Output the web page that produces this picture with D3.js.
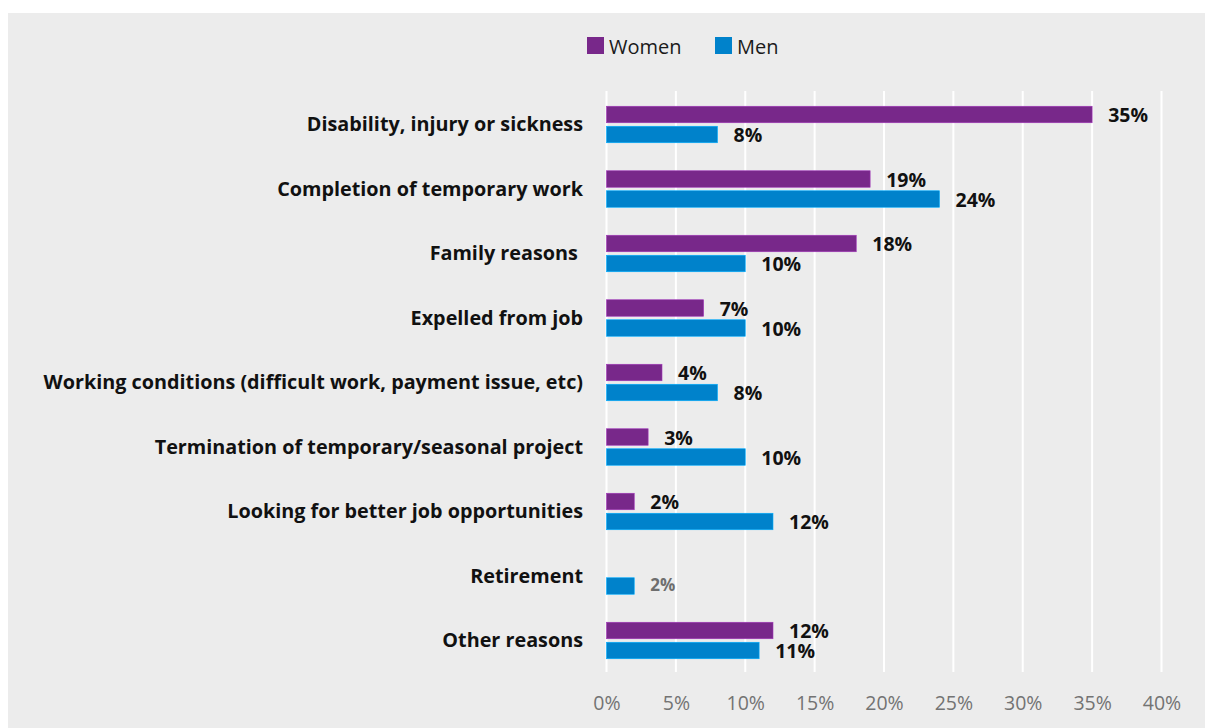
<!DOCTYPE html>
<html>
<head>
<meta charset="utf-8">
<script src="https://cdn.jsdelivr.net/npm/d3@7"></script>
<style>
  html, body { margin: 0; padding: 0; background: #ffffff; }
  svg { display: block; }
  text { font-family: "Open Sans", "Noto Sans", sans-serif; }
</style>
</head>
<body>
<svg id="chart" width="1205" height="728"></svg>
<script>
// Reasons for leaving the last job, by sex (% of respondents)
const categories = [
  "Disability, injury or sickness",
  "Completion of temporary work",
  "Family reasons ",
  "Expelled from job",
  "Working conditions (difficult work, payment issue, etc)",
  "Termination of temporary/seasonal project",
  "Looking for better job opportunities",
  "Retirement",
  "Other reasons"
];
const women = [35, 19, 18, 7, 4, 3, 2, null, 12];
const men   = [8, 24, 10, 10, 8, 10, 12, 2, 11];
const seriesNames = ["Women", "Men"];
const seriesColors = ["#78288a", "#0082cb"];
const tickValues = [0, 5, 10, 15, 20, 25, 30, 35, 40];

const svg = d3.select("#chart");
const W = 1205, H = 728;

// grey panel
svg.append("rect").attr("x", 8).attr("y", 13)
  .attr("width", W - 8).attr("height", H - 13).attr("fill", "#ececec");

const x = d3.scaleLinear().domain([0, 40]).range([606.5, 1161.5]);
const y = d3.scaleBand().domain(categories).range([92.5, 673]);

const gridTop = 91, gridBottom = 672;

// vertical gridlines
svg.append("g").selectAll("line").data(tickValues).join("line")
  .attr("x1", d => x(d)).attr("x2", d => x(d))
  .attr("y1", gridTop).attr("y2", gridBottom)
  .attr("stroke", "#ffffff").attr("stroke-width", 2);

// x axis tick labels
const xAxis = d3.axisBottom(x).tickValues(tickValues).tickFormat(d => d + "%").tickSize(0);
const axG = svg.append("g").attr("transform", `translate(0, ${gridBottom})`).call(xAxis);
axG.select(".domain").remove();
axG.selectAll("text")
  .attr("y", 0).attr("dy", 0)
  .attr("transform", "translate(0, 38)")
  .attr("font-size", 19.5).attr("fill", "#737373")
  .attr("font-family", "'Open Sans', sans-serif");

// category labels
svg.append("g").selectAll("text").data(categories).join("text")
  .attr("x", 583)
  .attr("y", d => y(d) + y.bandwidth() / 2 - 1)
  .attr("text-anchor", "end")
  .attr("dominant-baseline", "central")
  .attr("font-size", 19.8).attr("font-weight", 700).attr("fill", "#111111")
  .style("white-space", "pre")
  .text(d => d);

const barH = 16.5;
const offsets = [-18.5, 1.5];
const series = [women, men];

series.forEach((vals, si) => {
  const rows = categories.map((c, i) => ({ c, v: vals[i] })).filter(r => r.v != null);
  const g = svg.append("g");
  g.selectAll("rect").data(rows).join("rect")
    .attr("x", x(0))
    .attr("y", r => y(r.c) + y.bandwidth() / 2 + offsets[si])
    .attr("width", r => x(r.v) - x(0))
    .attr("height", barH)
    .attr("fill", seriesColors[si])
    .attr("stroke", d3.color(seriesColors[si]).brighter(0.8))
    .attr("stroke-width", 0.6);
  g.selectAll("text").data(rows).join("text")
    .attr("x", r => x(r.v) + 16)
    .attr("y", r => y(r.c) + y.bandwidth() / 2 + offsets[si] + barH / 2 + (r.c === "Retirement" ? -2 : 0))
    .attr("dominant-baseline", "central")
    .attr("font-weight", 700)
    .attr("font-size", r => r.c === "Retirement" ? 17 : 19.5)
    .attr("fill", r => r.c === "Retirement" ? "#6e6e6e" : "#111111")
    .text(r => r.v + "%");
});

// legend
const legendX = [587, 715];
const leg = svg.append("g").selectAll("g").data(seriesNames).join("g")
  .attr("transform", (d, i) => `translate(${legendX[i]}, 37)`);
leg.append("rect").attr("width", 17).attr("height", 17)
  .attr("fill", (d, i) => seriesColors[i]);
leg.append("text").attr("x", 22).attr("y", 9)
  .attr("dominant-baseline", "central")
  .attr("font-size", 20).attr("fill", "#1a1a1a")
  .text(d => d);
</script>
</body>
</html>
